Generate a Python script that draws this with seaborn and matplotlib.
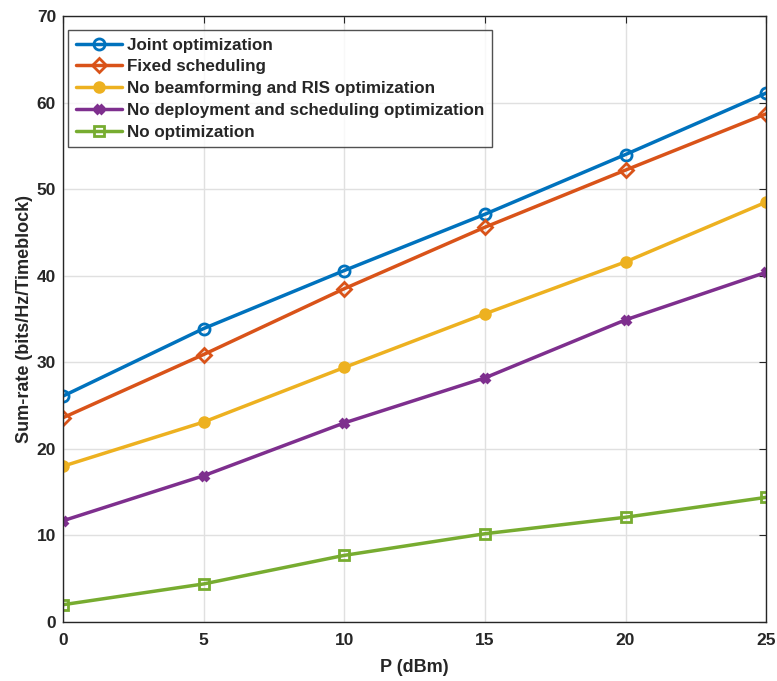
import matplotlib
matplotlib.use("Agg")
import matplotlib.pyplot as plt
import seaborn as sns
import pandas as pd

sns.set_style("white")
plt.rcParams['font.family'] = ['Liberation Sans', 'DejaVu Sans']
plt.rcParams['font.weight'] = 'bold'

P = [0, 5, 10, 15, 20, 25]
labels = ["Joint optimization", "Fixed scheduling", "No beamforming and RIS optimization",
          "No deployment and scheduling optimization", "No optimization"]
joint = [26.1, 33.9, 40.6, 47.1, 54.0, 61.1]
fixed = [23.6, 30.9, 38.5, 45.6, 52.2, 58.7]
no_bf = [18.0, 23.1, 29.4, 35.6, 41.6, 48.5]
no_dep = [11.7, 16.9, 23.0, 28.2, 34.9, 40.4]
no_opt = [2.0, 4.4, 7.7, 10.2, 12.1, 14.4]

series = [joint, fixed, no_bf, no_dep, no_opt]
colors = ["#0072BD", "#D95319", "#EDB120", "#7E2F8E", "#77AC30"]
markers = ["o", "D", "o", "X", "s"]
mfcs = ["none", "none", None, None, "none"]
msizes = [8, 7, 7, 6, 7]

fig = plt.figure(figsize=(7.77, 6.81), dpi=100)
ax = fig.add_axes([0.0811, 0.0866, 0.9049, 0.8899])

for vals, lab, c, m, mfc, ms in zip(series, labels, colors, markers, mfcs, msizes):
    df = pd.DataFrame({"P": P, "v": vals})
    kw = dict(marker=m, markersize=ms, markeredgewidth=2, markeredgecolor=c)
    if mfc == "none":
        kw["markerfacecolor"] = "none"
    else:
        kw["markerfacecolor"] = c
    sns.lineplot(data=df, x="P", y="v", ax=ax, color=c, linewidth=2.5, label=lab, **kw)

ax.set_xlim(0, 25)
ax.set_ylim(0, 70)
ax.set_xticks(P)
ax.set_yticks(range(0, 71, 10))
ax.grid(True, color="#e0e0e0", linewidth=1)
for s in ax.spines.values():
    s.set_color("#262626")
    s.set_linewidth(1)
ax.tick_params(direction="in", top=True, right=True, length=5, labelsize=12.5, colors="#262626")
ax.tick_params(axis="x", pad=8)
ax.tick_params(axis="y", pad=5)
for t in ax.get_xticklabels() + ax.get_yticklabels():
    t.set_fontweight("bold")
ax.set_xlabel("P (dBm)", fontsize=13, fontweight="bold", labelpad=8)
ax.set_ylabel("Sum-rate (bits/Hz/Timeblock)", fontsize=13, fontweight="bold", labelpad=3)
leg = ax.legend(loc="upper left", bbox_to_anchor=(0.007, 0.977), frameon=True, fancybox=False,
                edgecolor="#262626", handlelength=2.7, handletextpad=0.3, borderpad=0.45,
                labelspacing=0.4, borderaxespad=0.0, prop={"weight": "bold", "size": 12.25})
leg.get_frame().set_linewidth(1)
fig.savefig("out.png", dpi=100)
